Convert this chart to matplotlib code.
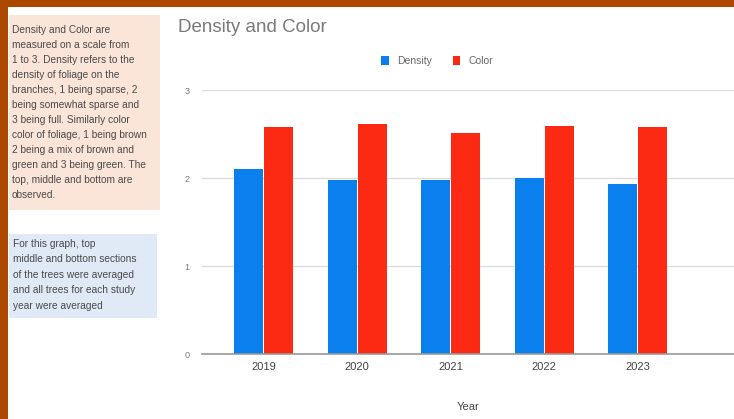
import numpy as np
import matplotlib.pyplot as plt
from matplotlib.patches import Rectangle

# 数据
years = ['2019', '2020', '2021', '2022', '2023']
density = [2.10, 1.98, 1.98, 2.00, 1.93]
color = [2.58, 2.61, 2.51, 2.59, 2.58]

note1 = ('Density and Color are\n'
         'measured on a scale from\n'
         '1 to 3. Density refers to the\n'
         'density of foliage on the\n'
         'branches, 1 being sparse, 2\n'
         'being somewhat sparse and\n'
         '3 being full. Similarly color\n'
         'color of foliage, 1 being brown\n'
         '2 being a mix of brown and\n'
         'green and 3 being green. The\n'
         'top, middle and bottom are\n'
         'observed.')
note2 = ('For this graph, top\n'
         'middle and bottom sections\n'
         'of the trees were averaged\n'
         'and all trees for each study\n'
         'year were averaged')

plt.rcParams['font.family'] = ['Liberation Sans', 'DejaVu Sans']

W, H = 734, 419
fig = plt.figure(figsize=(W / 100, H / 100), dpi=100)
fig.patch.set_facecolor('white')

# 背景边框（幻灯片的橙色边）
orange = '#ad4800'
fig.patches.append(Rectangle((0, 1 - 7 / H), 1, 7 / H, transform=fig.transFigure,
                             facecolor=orange, edgecolor='none', zorder=0))
fig.patches.append(Rectangle((0, 0), 8 / W, 1, transform=fig.transFigure,
                             facecolor=orange, edgecolor='none', zorder=0))

# 左侧两个说明框
fig.patches.append(Rectangle((9 / W, 1 - 210 / H), 151 / W, 195 / H, transform=fig.transFigure,
                             facecolor='#fbe4d8', edgecolor='none', zorder=0))
fig.patches.append(Rectangle((9 / W, 1 - 318 / H), 148 / W, 84 / H, transform=fig.transFigure,
                             facecolor='#dfeaf6', edgecolor='none', zorder=0))
fig.text(12 / W, 1 - 25 / H, note1, fontsize=7.3, color='#4a4a4a', va='top', ha='left',
         linespacing=1.63)
fig.text(13 / W, 1 - 239 / H, note2, fontsize=7.3, color='#4a4a4a', va='top', ha='left',
         linespacing=1.68)

# 图表
ax = fig.add_axes([202 / W, (H - 354) / H, (W - 202) / W, (354 - 90) / H])
x = np.arange(len(years))
bw = 0.31
ax.bar(x - 0.16, density, width=bw, color='#0a80ee', label='Density', zorder=3)
ax.bar(x + 0.16, color, width=bw, color='#fc2a12', label='Color', zorder=3)

ax.set_xlim(-0.66, 5.03)
ax.set_ylim(0, 3)
ax.set_yticks([0, 1, 2, 3])
ax.set_xticks(x)
ax.set_xticklabels(years, fontsize=8, color='#444444')
ax.tick_params(axis='y', labelsize=6.5, colors='#777777', length=0, pad=9)
ax.tick_params(axis='x', length=0, pad=6)
ax.grid(axis='y', color='#dddddd', linewidth=1, zorder=0)
for s in ['top', 'right', 'left']:
    ax.spines[s].set_visible(False)
ax.spines['bottom'].set_color('#999999')
ax.spines['bottom'].set_linewidth(1.2)
ax.spines['bottom'].set_zorder(4)
ax.set_xlabel('Year', fontsize=8, color='#444444', labelpad=21)

fig.text(178 / W, 1 - 27 / H, 'Density and Color', fontsize=13.5, color='#7a7a7a',
         va='center', ha='left')
fig.legend(loc='center', bbox_to_anchor=(437 / W, 1 - 61 / H), ncol=2, frameon=False,
           fontsize=7.5, handlelength=0.7, handleheight=0.9, columnspacing=2.0,
           handletextpad=0.8, labelcolor='#666666')

fig.savefig('out.png', dpi=100)
